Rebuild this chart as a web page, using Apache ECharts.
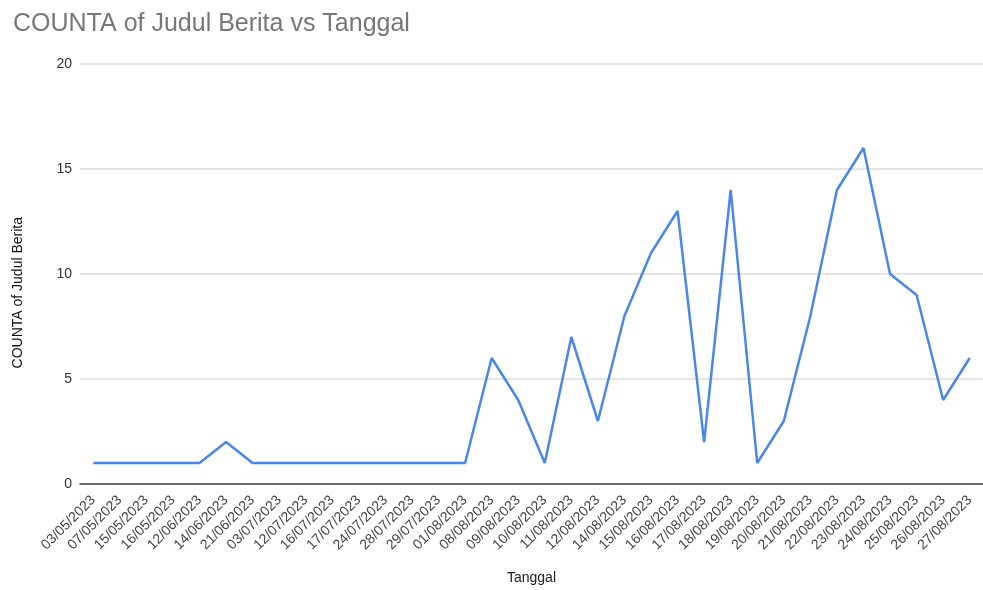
<!DOCTYPE html>
<html>
<head>
<meta charset="utf-8">
<script src="https://cdn.jsdelivr.net/npm/echarts@6/dist/echarts.min.js"></script>
<style>
  html, body { margin: 0; padding: 0; background: #fff; }
  #chart { width: 983px; height: 590px; }
</style>
</head>
<body>
<div id="chart"></div>
<script>
const tanggal = [
  "03/05/2023", "07/05/2023", "15/05/2023", "16/05/2023", "12/06/2023",
  "14/06/2023", "21/06/2023", "03/07/2023", "12/07/2023", "16/07/2023",
  "17/07/2023", "24/07/2023", "28/07/2023", "29/07/2023", "01/08/2023",
  "08/08/2023", "09/08/2023", "10/08/2023", "11/08/2023", "12/08/2023",
  "14/08/2023", "15/08/2023", "16/08/2023", "17/08/2023", "18/08/2023",
  "19/08/2023", "20/08/2023", "21/08/2023", "22/08/2023", "23/08/2023",
  "24/08/2023", "25/08/2023", "26/08/2023", "27/08/2023",
]
const jumlahBerita = [
  1, 1, 1, 1, 1, 2, 1, 1, 1, 1, 1, 1, 1, 1, 1,
  6, 4, 1, 7, 3, 8, 11, 13, 2, 14, 1, 3, 8, 14, 16, 10, 9, 4, 6,
]
const yTicks = [0, 5, 10, 15, 20]

const font = "'Liberation Sans', Arial, sans-serif"

const chart = echarts.init(document.getElementById("chart"))
chart.setOption({
  animation: false,
  textStyle: { fontFamily: font },
  title: {
    text: "COUNTA of Judul Berita vs Tanggal",
    left: 8,
    top: 7,
    textStyle: { fontFamily: font, fontSize: 25, fontWeight: "normal", color: "#777" },
  },
  grid: { left: 80, right: -4, top: 64, bottom: 104 },
  graphic: [
    {
      type: "text",
      left: 11,
      top: 217,
      rotation: Math.PI / 2,
      style: {
        text: "COUNTA of Judul Berita",
        font: "14px " + font,
        fill: "#111",
      },
    },
  ],
  xAxis: {
    type: "category",
    data: tanggal,
    boundaryGap: true,
    name: "Tanggal",
    nameLocation: "middle",
    nameGap: 87,
    nameTextStyle: { fontSize: 14, color: "#222" },
    axisLine: { lineStyle: { color: "#444", width: 1.5 } },
    axisTick: { show: false },
    axisLabel: {
      interval: 0,
      rotate: 45,
      margin: 14,
      fontSize: 14,
      color: "#444",
    },
  },
  yAxis: {
    type: "value",
    min: yTicks[0],
    max: yTicks[yTicks.length - 1],
    interval: 5,
    axisLine: { show: false },
    axisTick: { show: false },
    splitLine: { lineStyle: { color: "#dcdcdc", width: 1.5 } },
    axisLabel: { fontSize: 14, color: "#333", margin: 8 },
  },
  series: [
    {
      type: "line",
      data: jumlahBerita,
      showSymbol: false,
      lineStyle: { color: "#4a86ec", width: 2.5 },
      itemStyle: { color: "#4a86ec" },
    },
  ],
})
</script>
</body>
</html>
